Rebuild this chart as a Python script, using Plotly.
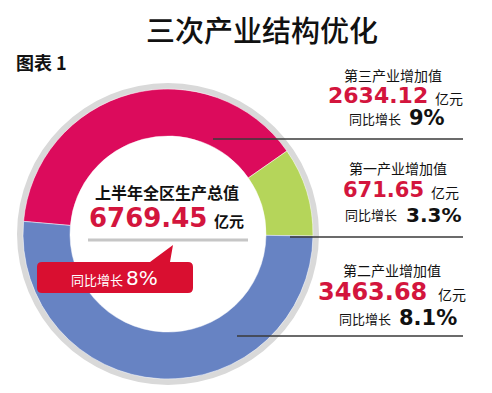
import plotly.graph_objects as go

W, H = 492, 393

# ---- data ----
sectors = ["第三产业", "第一产业", "第二产业"]
values = [2634.12, 671.65, 3463.68]
growth = ["9%", "3.3%", "8.1%"]
total_value = "6769.45"
total_growth = "8%"
title_text = "三次产业结构优化"
fig_label = "图表 1"

colors = ["#dc0b5c", "#b5d55a", "#6783c3"]
CJK = "Noto Sans CJK SC"
NUM = "DejaVu Sans"
RED = "#d3153d"


def px(x):
    return x / W


def py(y):
    return 1 - y / H


cx, cy, r_out, r_border = 168, 234, 145, 151

fig = go.Figure()
# gray outer border ring
fig.add_trace(go.Pie(
    values=[1], marker=dict(colors=["#d9d9d9"]), hole=r_out / r_border,
    textinfo="none", hoverinfo="skip", showlegend=False, sort=False,
    domain=dict(x=[px(cx - r_border), px(cx + r_border)],
                y=[py(cy + r_border), py(cy - r_border)]),
))
# main donut
fig.add_trace(go.Pie(
    labels=sectors, values=values, hole=0.676, sort=False,
    direction="clockwise", rotation=275,
    marker=dict(colors=colors, line=dict(color="rgba(255,255,255,0.6)", width=0.8)),
    textinfo="none", hoverinfo="skip", showlegend=False,
    domain=dict(x=[px(cx - r_out), px(cx + r_out)],
                y=[py(cy + r_out), py(cy - r_out)]),
))

ann = []


def add(text, x, y, size, color="#111", family=CJK, weight="normal", xanchor="center"):
    ann.append(dict(text=text, x=px(x), y=py(y), xref="paper", yref="paper",
                    xanchor=xanchor, yanchor="middle", showarrow=False,
                    font=dict(size=size, color=color, family=family, weight=weight)))


# titles
add(title_text, 262, 29, 29, color="#111", weight=500)
add(fig_label, 14, 62, 18, color="#111", weight="bold", xanchor="left")

# center text
add("上半年全区生产总值", 167, 192, 16, weight="bold")
add(total_value, 87, 218, 26, color=RED, family=NUM, weight="bold", xanchor="left")
add("亿元", 212, 220, 15, weight="bold", xanchor="left")
add("同比增长", 69, 279, 13, color="white", xanchor="left")
add(total_growth, 124, 278, 20, color="white", family=NUM, xanchor="left")

# right-side labels
blocks = [
    dict(ny=75, nx=393, vx=326, vy=96, ux=433, gx=347, gy=118, gvx=407, vs=22, gs=21),
    dict(ny=168, nx=398, vx=341, vy=190, ux=429, gx=343, gy=215, gvx=404, vs=21, gs=20),
    dict(ny=270, nx=392, vx=316, vy=292, ux=436, gx=337, gy=318, gvx=397, vs=24, gs=21),
]
for name, val, g, b in zip(sectors, values, growth, blocks):
    add(name + "增加值", b["nx"], b["ny"], 14)
    add(f"{val:.2f}", b["vx"], b["vy"], b["vs"], color=RED, family=NUM, weight="bold", xanchor="left")
    add("亿元", b["ux"], b["vy"] + 2, 14, xanchor="left")
    add("同比增长", b["gx"], b["gy"], 13, xanchor="left")
    add(g, b["gvx"], b["gy"], b["gs"], family=NUM, weight="bold", xanchor="left")

shapes = []
# leader lines
for (x0, y0) in [(213, 139), (290, 237), (237, 336)]:
    shapes.append(dict(type="line", xref="paper", yref="paper",
                       x0=px(x0), x1=px(463), y0=py(y0), y1=py(y0),
                       line=dict(color="#3a3a3a", width=1.5)))
# gray divider in center
shapes.append(dict(type="line", xref="paper", yref="paper",
                   x0=px(88), x1=px(248), y0=py(240), y1=py(240),
                   line=dict(color="#c6c6c6", width=3)))

# red callout box with pointer
bx0, bx1, by0, by1, rr = 37, 193, 262, 293, 5
pts = [
    ("M", bx0 + rr, by0), ("L", 150, by0), ("L", 173, 245), ("L", 170, by0),
    ("L", bx1 - rr, by0), ("Q", bx1, by0, bx1, by0 + rr), ("L", bx1, by1 - rr),
    ("Q", bx1, by1, bx1 - rr, by1), ("L", bx0 + rr, by1),
    ("Q", bx0, by1, bx0, by1 - rr), ("L", bx0, by0 + rr),
    ("Q", bx0, by0, bx0 + rr, by0),
]
path = ""
for p in pts:
    cmd = p[0]
    coords = p[1:]
    segs = []
    for i in range(0, len(coords), 2):
        segs.append(f"{px(coords[i]):.5f},{py(coords[i + 1]):.5f}")
    path += cmd + " ".join(segs) + " "
path += "Z"
shapes.append(dict(type="path", xref="paper", yref="paper", path=path,
                   fillcolor="#d90f30", line=dict(width=0), layer="above"))

fig.update_layout(
    width=W, height=H, margin=dict(l=0, r=0, t=0, b=0),
    paper_bgcolor="white", plot_bgcolor="white",
    annotations=ann, shapes=shapes, showlegend=False,
)
fig.write_html(
    "out.html",
    config={"displayModeBar": False},
    post_script="document.body.style.margin='0';document.body.style.overflow='hidden';",
)
